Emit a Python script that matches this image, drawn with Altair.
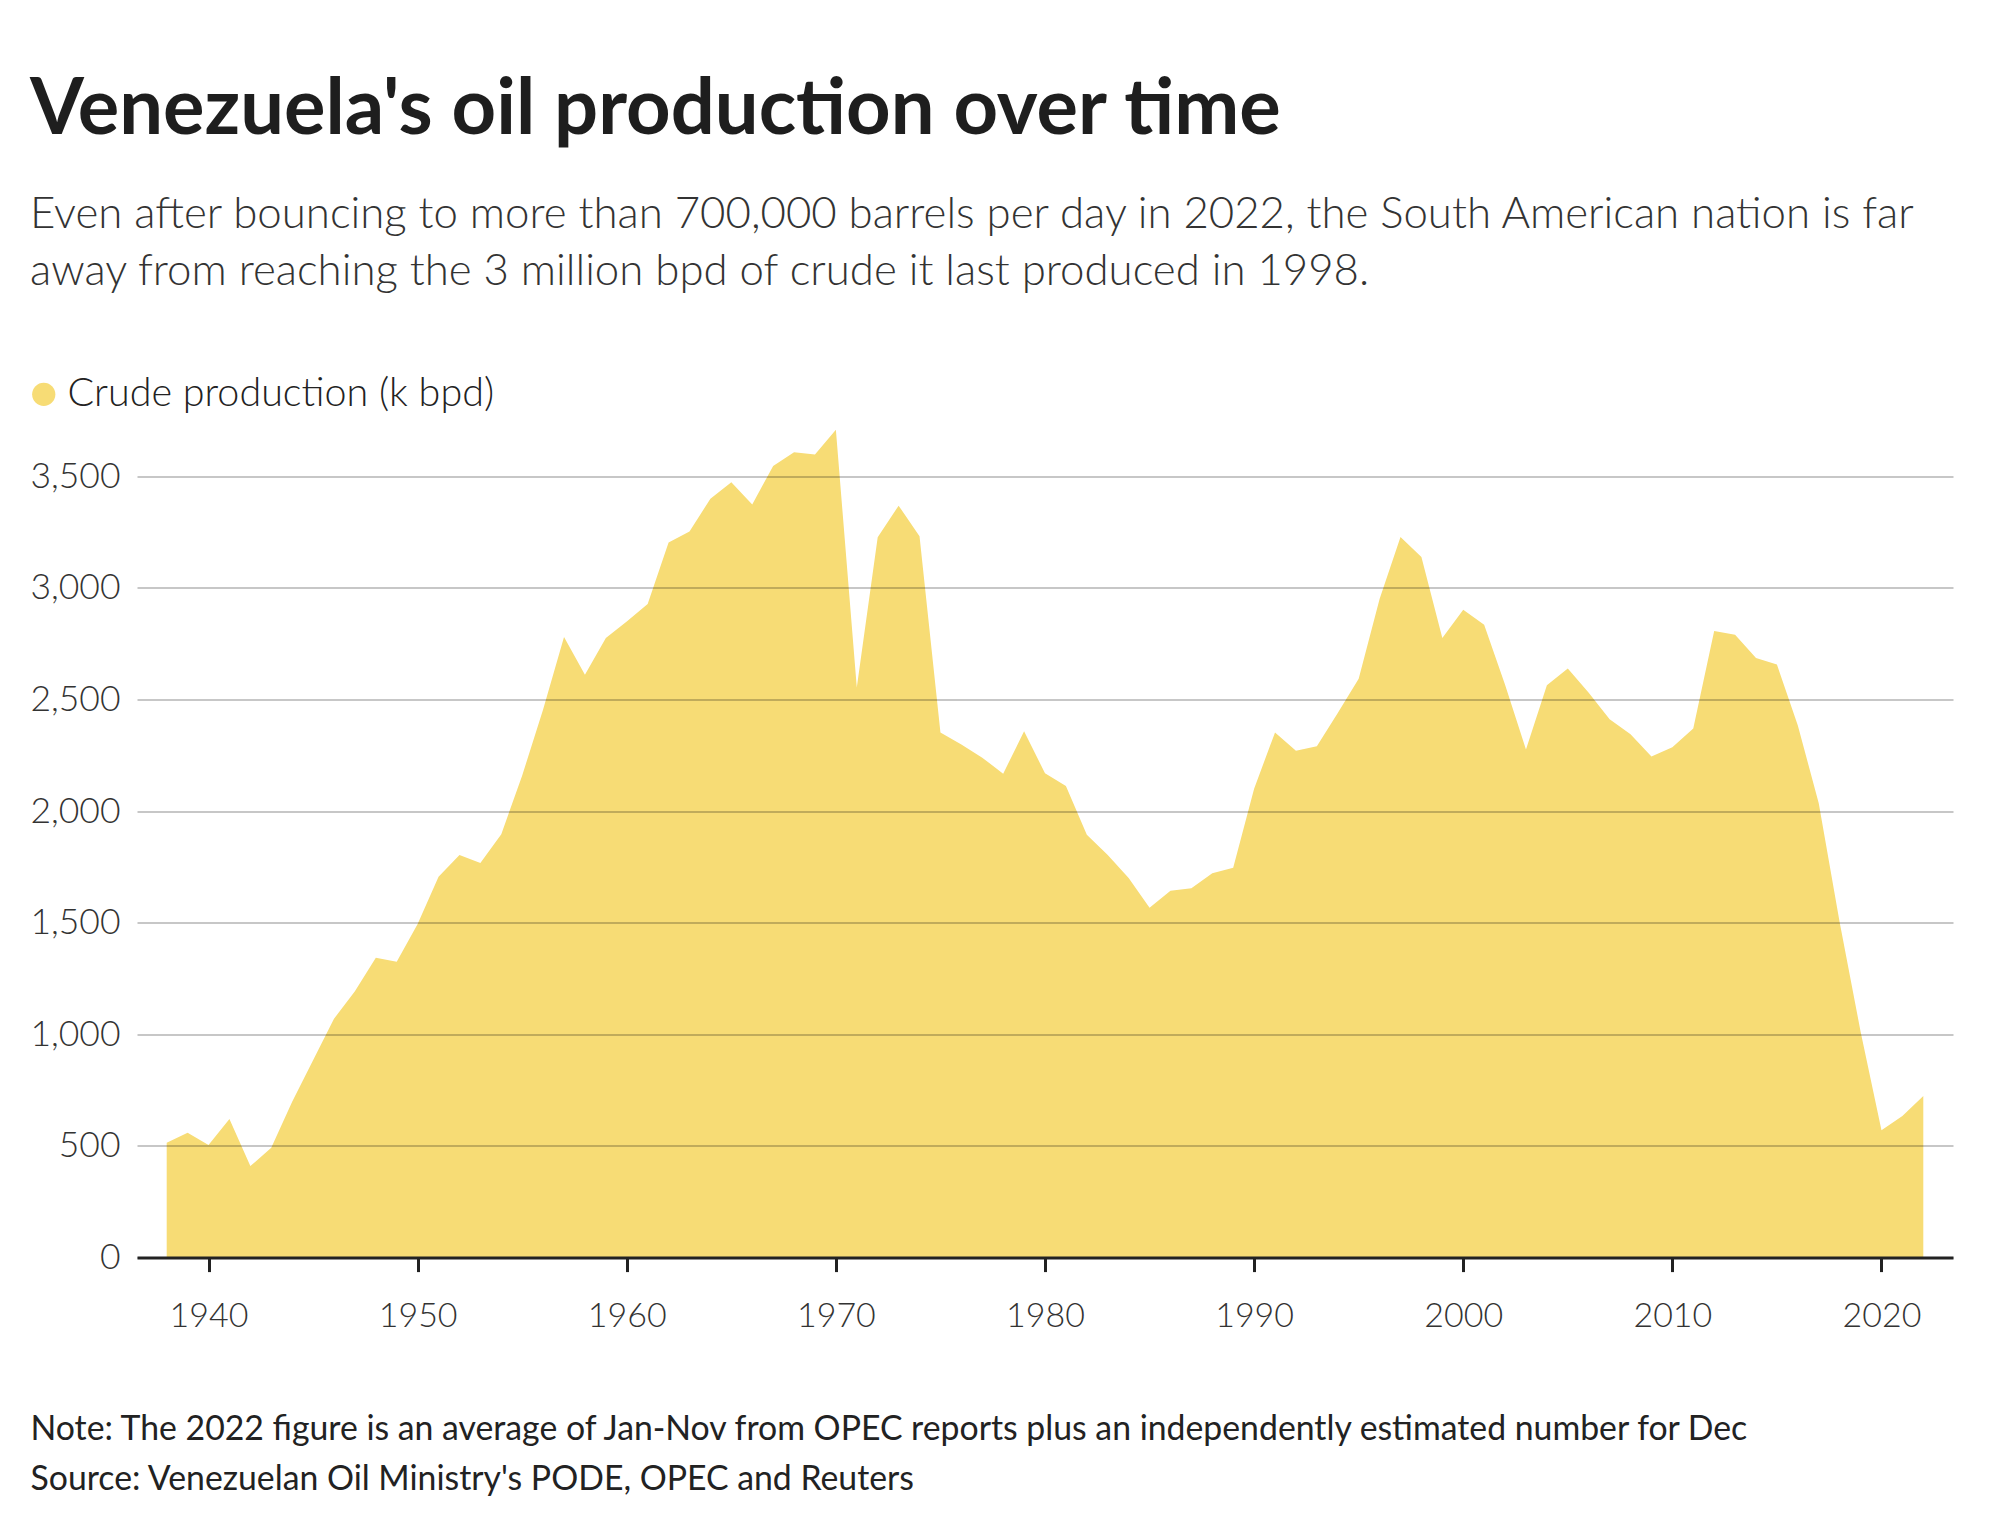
import altair as alt
import pandas as pd

# ---- data ----
years = list(range(1938, 2023))
production = [
    515, 559, 505, 621, 410, 492, 698, 884, 1070, 1193,      # 1938-1947
    1343, 1325, 1495, 1706, 1804, 1768, 1897, 2160, 2456, 2781,  # 1948-1957
    2611, 2776, 2850, 2928, 3204, 3253, 3400, 3474, 3374, 3547,  # 1958-1967
    3608, 3598, 3709, 2554, 3227, 3369, 3232, 2353, 2299, 2240,  # 1968-1977
    2168, 2358, 2170, 2113, 1894, 1804, 1701, 1567, 1644, 1655,  # 1978-1987
    1722, 1747, 2101, 2353, 2271, 2291, 2440, 2593, 2951, 3229,  # 1988-1997
    3139, 2776, 2902, 2835, 2567, 2276, 2564, 2639, 2531, 2412,  # 1998-2007
    2345, 2245, 2286, 2371, 2807, 2791, 2686, 2657, 2384, 2036,  # 2008-2017
    1503, 1013, 570, 634, 724,                                   # 2018-2022
]
series_name = "Crude production (k bpd)"
x_ticks = [1940, 1950, 1960, 1970, 1980, 1990, 2000, 2010, 2020]
y_ticks = [0, 500, 1000, 1500, 2000, 2500, 3000, 3500]

title_text = "Venezuela's oil production over time"
subtitle_lines = [
    "Even after bouncing to more than 700,000 barrels per day in 2022, the South American nation is far",
    "away from reaching the 3 million bpd of crude it last produced in 1998.",
]
note_lines = [
    "Note: The 2022 figure is an average of Jan-Nov from OPEC reports plus an independently estimated number for Dec",
    "Source: Venezuelan Oil Ministry's PODE, OPEC and Reuters",
]

df = pd.DataFrame({"year": years, "value": production, "series": series_name})

FONT = "Lato"
YELLOW = "#f7dc75"

chart = (
    alt.Chart(df)
    .mark_area(interpolate="linear", opacity=1)
    .encode(
        x=alt.X(
            "year:Q",
            scale=alt.Scale(domain=[1936.58, 2023.42], nice=False, zero=False),
            axis=alt.Axis(
                values=x_ticks, format="d", grid=False, zindex=1,
                domain=True, domainColor="#222222", domainWidth=3,
                ticks=True, tickColor="#222222", tickWidth=3, tickSize=14,
                labelPadding=28, labelFont=FONT, labelFontSize=34, labelFontWeight=300,
                labelColor="#333333",
                title=note_lines, titleX=-107, titleY=182, titleAlign="left",
                titleAnchor="start", titleBaseline="alphabetic",
                titleFont=FONT, titleFontSize=33.8, titleFontWeight="normal",
                titleColor="#222222", titleLineHeight=50,
            ),
        ),
        y=alt.Y(
            "value:Q",
            scale=alt.Scale(domain=[0, 3750], nice=False),
            axis=alt.Axis(
                values=y_ticks, format=",d", title=None, zindex=1,
                domain=False, ticks=False, labelPadding=17,
                labelFont=FONT, labelFontSize=35.5, labelFontWeight=300, labelColor="#333333",
                grid=True, gridColor="#000000", gridOpacity=0.22, gridWidth=2,
            ),
        ),
        color=alt.Color(
            "series:N",
            scale=alt.Scale(domain=[series_name], range=[YELLOW]),
            legend=alt.Legend(
                orient="none", legendX=-113, legendY=-46, title=None,
                symbolType="circle", symbolSize=540, symbolStrokeWidth=0, symbolOpacity=1,
                labelFont=FONT, labelFontSize=39.5, labelFontWeight=300, labelColor="#222222",
                labelOffset=4, labelLimit=0, padding=0,
            ),
        ),
    )
    .properties(
        width=1816,
        height=837,
        title=alt.TitleParams(
            text=title_text, subtitle=subtitle_lines,
            anchor="start", frame="group", dx=-107, offset=80,
            font=FONT, fontSize=77.7, fontWeight="bold", color="#1e1e1e",
            subtitleFont=FONT, subtitleFontSize=43.8, subtitleFontWeight=300,
            subtitleColor="#333333", subtitleLineHeight=57, subtitlePadding=42,
        ),
        autosize=alt.AutoSizeParams(type="none"),
        padding={"left": 129, "top": 412.6, "right": 31, "bottom": 273},
    )
    .configure_view(stroke=None)
)

chart.save("out.html", embed_options={"renderer": "svg", "actions": False})
